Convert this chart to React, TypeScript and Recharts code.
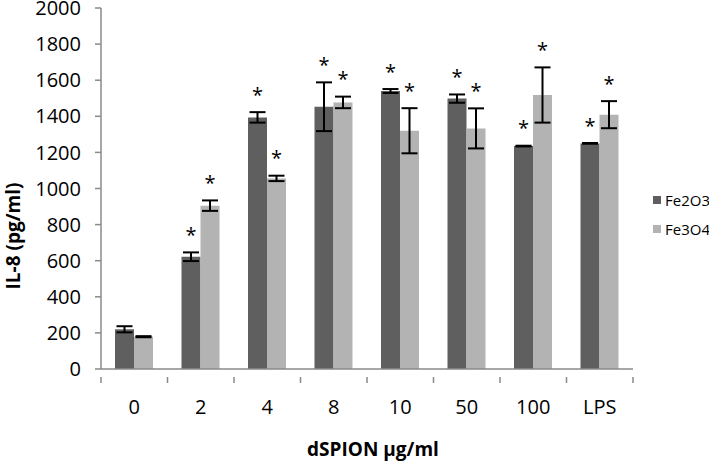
import React from 'react';
import { BarChart, Bar, XAxis, YAxis, ErrorBar, LabelList, Label } from 'recharts';

const categories = ['0', '2', '4', '8', '10', '50', '100', 'LPS'];
const fe2o3 = [220, 622, 1394, 1453, 1540, 1498, 1235, 1250];
const fe2o3Err = [17, 24, 29, 135, 11, 23, 2, 2];
const fe2o3Sig = [false, true, true, true, true, true, true, true];
const fe3o4 = [179, 905, 1056, 1477, 1320, 1333, 1518, 1409];
const fe3o4Err = [3, 29, 15, 32, 125, 111, 153, 75];
const fe3o4Sig = [false, true, true, true, true, true, true, true];
const yTicks = [0, 200, 400, 600, 800, 1000, 1200, 1400, 1600, 1800, 2000];

const DARK = '#5f5f5f';
const LIGHT = '#b3b3b3';
const AXIS = '#8a8a8a';
const FONT = '"Open Sans", sans-serif';

const W = 709;
const H = 461;
const LEFT = 101;
const RIGHT = 76;
const BAND = (W - LEFT - RIGHT) / categories.length;

const data = categories.map((c, i) => ({
  name: c,
  fe2o3: fe2o3[i],
  fe2o3Err: fe2o3Err[i],
  fe2o3Sig: fe2o3Sig[i],
  fe3o4: fe3o4[i],
  fe3o4Err: fe3o4Err[i],
  fe3o4Sig: fe3o4Sig[i],
}));

const series = [
  { key: 'fe2o3', label: 'Fe2O3', color: DARK },
  { key: 'fe3o4', label: 'Fe3O4', color: LIGHT },
];

// tick marks sit on the category boundaries, labels at the centres
const XTick = (props: any) => {
  const { x, y, payload, index } = props;
  const last = index === categories.length - 1;
  return (
    <g>
      <line x1={x - BAND / 2} x2={x - BAND / 2} y1={y} y2={y + 6} stroke={AXIS} strokeWidth={1.5} />
      {last && <line x1={x + BAND / 2} x2={x + BAND / 2} y1={y} y2={y + 6} stroke={AXIS} strokeWidth={1.5} />}
      <text x={x} y={y + 37} textAnchor="middle" fontFamily={FONT} fontSize={20} fill="#000">
        {payload.value}
      </text>
    </g>
  );
};

// significance star above the error bar
const makeStar = (key: string) => (props: any) => {
  const { x, y, width, height, index } = props;
  const row: any = data[index];
  if (!row[key + 'Sig']) return null;
  const errPx = (row[key + 'Err'] * height) / row[key];
  const cy = y - errPx - 21;
  return (
    <text x={x + width / 2} y={cy + 10.5} textAnchor="middle" fontFamily={FONT} fontSize={20} fill="#000">
      *
    </text>
  );
};

export default function App() {
  return (
    <div style={{ position: 'absolute', left: 0, top: 0, width: W, height: H, background: '#fff' }}>
      <BarChart
        width={W}
        height={H}
        data={data}
        margin={{ top: 8, right: RIGHT, left: 0, bottom: 0 }}
        barGap={0}
        barSize={19}
      >
        <XAxis
          dataKey="name"
          height={92}
          axisLine={{ stroke: AXIS, strokeWidth: 1.5 }}
          tickLine={false}
          tick={<XTick />}
          interval={0}
        >
          <Label
            content={() => (
              <text x={373} y={456} textAnchor="middle" fontFamily={FONT} fontSize={19} fontWeight="bold" fill="#000">
                dSPION µg/ml
              </text>
            )}
          />
        </XAxis>
        <YAxis
          width={LEFT}
          domain={[0, 2000]}
          ticks={yTicks}
          interval={0}
          axisLine={{ stroke: AXIS, strokeWidth: 1.5 }}
          tickLine={{ stroke: AXIS, strokeWidth: 1.5 }}
          tickSize={6}
          tickMargin={14}
          tick={{ fontFamily: FONT, fontSize: 20, fill: '#000' }}
        >
          <Label
            content={() => (
              <text
                x={13}
                y={236}
                transform="rotate(-90, 13, 236)"
                textAnchor="middle"
                dominantBaseline="central"
                fontFamily={FONT}
                fontSize={19}
                fontWeight="bold"
                fill="#000"
              >
                IL-8 (pg/ml)
              </text>
            )}
          />
        </YAxis>
        {series.map((s) => (
          <Bar key={s.key} dataKey={s.key} name={s.label} fill={s.color} isAnimationActive={false}>
            <ErrorBar dataKey={s.key + 'Err'} width={8} stroke="#000" strokeWidth={2} />
            <LabelList dataKey={s.key} content={makeStar(s.key)} />
          </Bar>
        ))}
      </BarChart>
      <div style={{ position: 'absolute', left: 653, top: 185.5, fontFamily: FONT, fontSize: 15, color: '#000' }}>
        {series.map((s) => (
          <div key={s.key} style={{ display: 'flex', alignItems: 'center', height: 29 }}>
            <span style={{ width: 8, height: 8, background: s.color, display: 'inline-block', marginRight: 4 }} />
            <span>{s.label}</span>
          </div>
        ))}
      </div>
    </div>
  );
}
